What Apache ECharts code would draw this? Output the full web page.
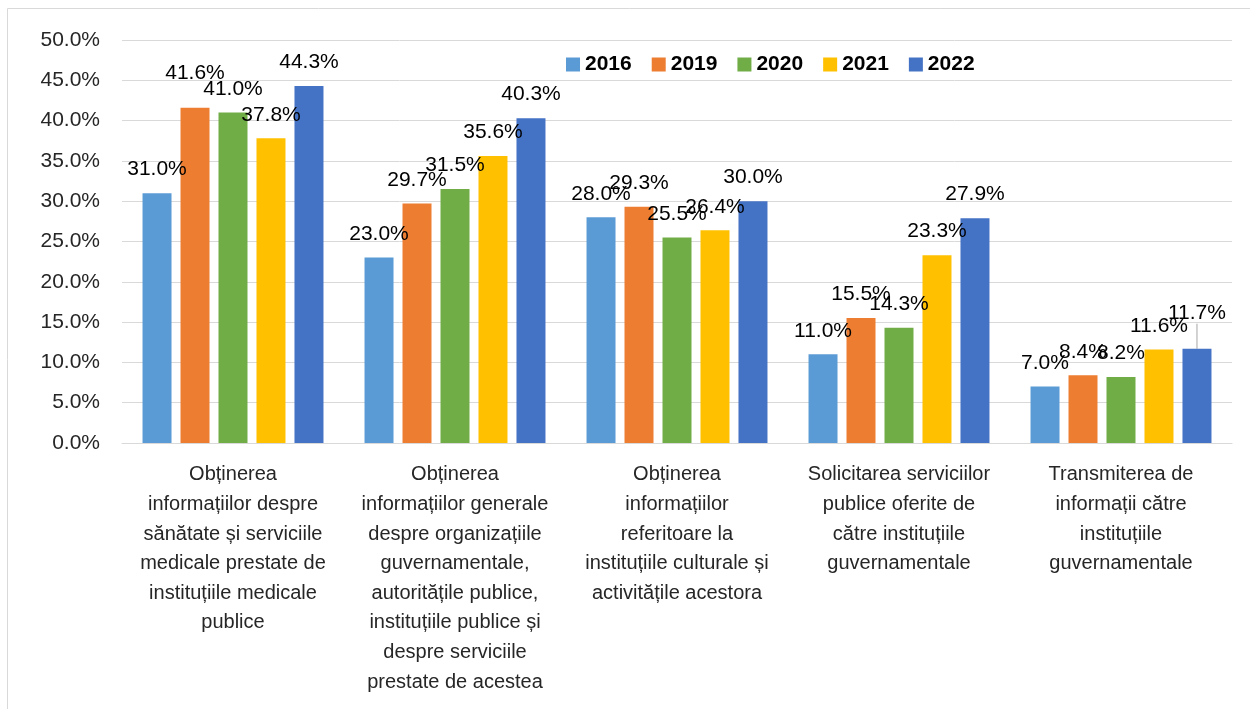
<!DOCTYPE html>
<html>
<head>
<meta charset="utf-8">
<script src="https://cdn.jsdelivr.net/npm/echarts@6/dist/echarts.min.js"></script>
<style>
    html, body {margin:0;padding:0;background:#fff;}
    #chart {width:1250px;height:709px;}
</style>
</head>
<body>
<div id="chart"></div>
<script>
    var categories = [
        'Obținerea\ninformațiilor despre\nsănătate și serviciile\nmedicale prestate de\ninstituțiile medicale\npublice',
        'Obținerea\ninformațiilor generale\ndespre organizațiile\nguvernamentale,\nautoritățile publice,\ninstituțiile publice și\ndespre serviciile\nprestate de acestea',
        'Obținerea\ninformațiilor\nreferitoare la\ninstituțiile culturale și\nactivitățile acestora',
        'Solicitarea serviciilor\npublice oferite de\ncătre instituțiile\nguvernamentale',
        'Transmiterea de\ninformații către\ninstituțiile\nguvernamentale'
    ];
    var years = ['2016', '2019', '2020', '2021', '2022'];
    var v2016 = [31.0, 23.0, 28.0, 11.0, 7.0];
    var v2019 = [41.6, 29.7, 29.3, 15.5, 8.4];
    var v2020 = [41.0, 31.5, 25.5, 14.3, 8.2];
    var v2021 = [37.8, 35.6, 26.4, 23.3, 11.6];
    var v2022 = [44.3, 40.3, 30.0, 27.9, 11.7];
    var colors = ['#5B9BD5', '#ED7D31', '#70AD47', '#FFC000', '#4472C4'];

    var font = 'Liberation Sans, Arial, sans-serif';
    var chart = echarts.init(document.getElementById('chart'));

    var allValues = [v2016, v2019, v2020, v2021, v2022];
    // labels that Excel had dragged upward by hand: [series, category, dy]
    var moved = [[1, 0, -11], [4, 4, -12]];

    var series = years.map(function (y, i) {
        var data = allValues[i].map(function (v, j) {
            if (i === 4 && j === 4) {
                return {value: v, labelLine: {show: true, lineStyle: {color: '#a6a6a6', width: 1}}};
            }
            return v;
        });
        return {
            name: y,
            type: 'bar',
            data: data,
            barWidth: 29,
            barGap: '31%',
            itemStyle: {color: colors[i]},
            label: {
                show: true,
                position: 'top',
                distance: 13,
                color: '#000',
                fontSize: 21,
                fontFamily: font,
                formatter: function (p) { return p.value.toFixed(1) + '%'; }
            },
            labelLayout: function (p) {
                for (var k = 0; k < moved.length; k++) {
                    if (moved[k][0] === p.seriesIndex && moved[k][1] === p.dataIndex) {
                        return {dy: moved[k][2]};
                    }
                }
                return {};
            }
        };
    });

    chart.setOption({
        animation: false,
        color: colors,
        graphic: [{
            type: 'rect',
            shape: {x: 7.5, y: 8.5, width: 1260, height: 720},
            style: {fill: 'none', stroke: '#d9d9d9', lineWidth: 1},
            silent: true
        }],
        legend: {
            data: years,
            top: 49,
            left: 561,
            itemWidth: 14,
            itemHeight: 14,
            itemGap: 20,
            icon: 'rect',
            textStyle: {fontSize: 21, fontWeight: 'bold', color: '#000', fontFamily: font}
        },
        grid: {left: 122, right: 18, top: 40, bottom: 266},
        xAxis: {
            type: 'category',
            data: categories,
            axisTick: {show: false},
            axisLine: {lineStyle: {color: '#d9d9d9'}},
            axisLabel: {
                interval: 0,
                margin: 17,
                fontSize: 20,
                lineHeight: 29.6,
                color: '#262626',
                fontFamily: font
            }
        },
        yAxis: {
            type: 'value',
            min: 0,
            max: 50,
            interval: 5,
            axisLine: {show: false},
            axisTick: {show: false},
            splitLine: {lineStyle: {color: '#d9d9d9'}},
            axisLabel: {
                margin: 22,
                fontSize: 21,
                color: '#262626',
                fontFamily: font,
                formatter: function (v) { return v.toFixed(1) + '%'; }
            }
        },
        series: series
    });
</script>
</body>
</html>
